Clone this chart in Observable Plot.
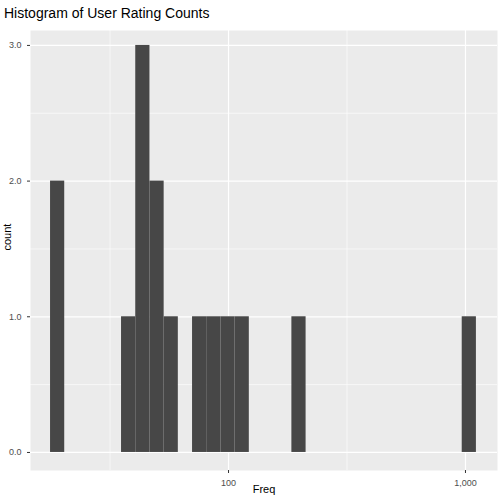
<!DOCTYPE html>
<html><head>
<script src="https://cdn.jsdelivr.net/npm/d3@7"></script>
<script src="https://cdn.jsdelivr.net/npm/@observablehq/plot@0.6"></script>
<style>
body{margin:0;background:#fff;font-family:"Liberation Sans",Arial,sans-serif;}
#title{height:28px;line-height:26px;padding-left:4px;font-size:14px;color:#000;}
</style>
</head><body>
<div id="title">Histogram of User Rating Counts</div>
<div id="chart"></div>
<script>
// bin edges (Freq, log scale) and counts
const binLo = [17.74, 35.36, 40.6, 46.6, 53.5, 70.5, 80.9, 92.9, 106.6, 185.1, 968.7];
const binHi = [20.36, 40.6, 46.6, 53.5, 61.4, 80.9, 92.9, 106.6, 122.4, 212.5, 1112];
const counts = [2, 1, 3, 2, 1, 1, 1, 1, 1, 1, 1];
const xTicks = [100, 1000];
const xMinor = [31.62, 316.2];
const yTicks = [0, 1, 2, 3];
const yMinor = [0.5, 1.5, 2.5];

const bins = binLo.map((lo, i) => ({lo, hi: binHi[i], n: counts[i]}));

const chart = Plot.plot({
  width: 504,
  height: 476,
  marginLeft: 30,
  marginRight: 7,
  marginTop: 2,
  marginBottom: 34,
  style: {fontFamily: "Liberation Sans, Arial, sans-serif", fontSize: "9px", color: "#4d4d4d"},
  x: {type: "log", domain: [14.6, 1365], ticks: xTicks, tickFormat: d => d, label: null, tickSize: 3},
  y: {domain: [-0.133, 3.11], ticks: yTicks, label: null, tickSize: 3},
  marks: [
    Plot.frame({fill: "#ebebeb", stroke: null}),
    Plot.ruleX(xMinor, {stroke: "#fff", strokeWidth: 0.6}),
    Plot.ruleY(yMinor, {stroke: "#fff", strokeWidth: 0.6}),
    Plot.ruleX(xTicks, {stroke: "#fff", strokeWidth: 1.2}),
    Plot.ruleY(yTicks, {stroke: "#fff", strokeWidth: 1.2}),
    Plot.rectY(bins, {x1: "lo", x2: "hi", y1: 0, y2: "n", fill: "#474747", inset: 0}),
    Plot.axisX({ticks: xTicks, tickFormat: d => d, tickSize: 3, stroke: "#333", label: null}),
    Plot.axisY({ticks: yTicks, tickSize: 3, stroke: "#333", label: null}),
    Plot.text(["Freq"], {frameAnchor: "bottom", dy: 22, fontSize: 11, fill: "#000"}),
    Plot.text(["count"], {frameAnchor: "left", dx: -23, rotate: -90, fontSize: 11, fill: "#000"})
  ]
});
document.getElementById("chart").append(chart);
</script>
</body></html>
